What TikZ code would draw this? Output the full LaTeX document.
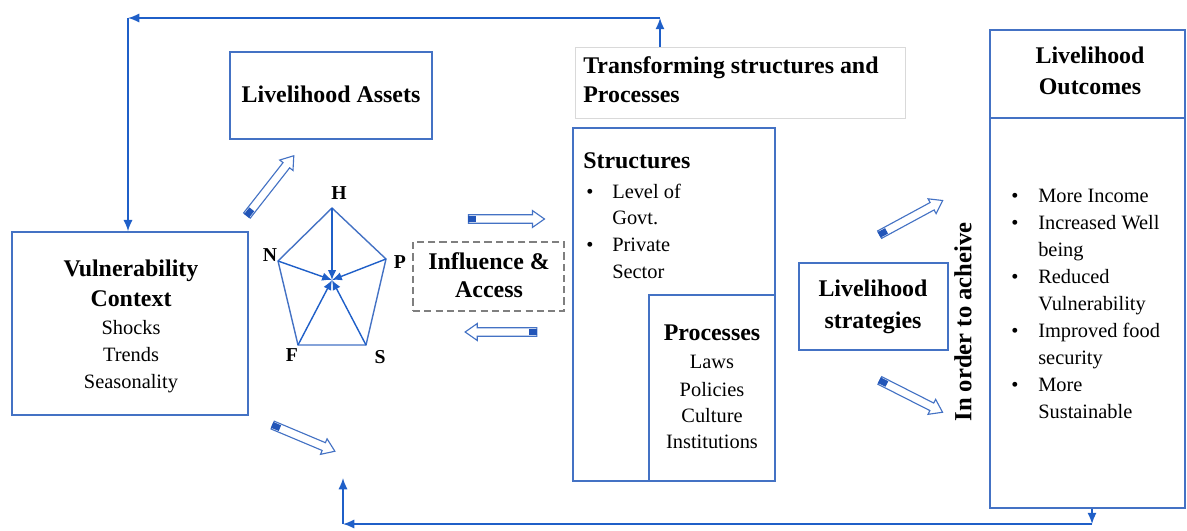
\documentclass[tikz,border=0pt]{standalone}
\usepackage{fontspec}
\setmainfont{Liberation Serif}
\usetikzlibrary{arrows.meta,shapes.arrows,fit,calc}
\definecolor{bx}{HTML}{4472C4}
\definecolor{cn}{HTML}{1F5FC8}
\definecolor{dk}{HTML}{2255B8}
\definecolor{gr}{HTML}{7F7F7F}
\definecolor{lg}{HTML}{D9D9D9}
\tikzset{
 box/.style={draw=bx, line width=1.1pt, inner sep=0pt},
 bt/.style={font=\fontsize{17}{21}\selectfont\bfseries, anchor=base, inner sep=0pt},
 rt/.style={font=\fontsize{14.5}{19}\selectfont, anchor=base, inner sep=0pt},
 lt/.style={font=\fontsize{14}{17}\selectfont\bfseries, inner sep=0pt},
 conn/.style={draw=cn, line width=1.1pt, -{Latex[length=8pt,width=6.5pt]}},
 spoke/.style={draw=cn, line width=1pt, -{Latex[length=7pt,width=6pt]}},
 barrow/.style={single arrow, draw=bx, fill=white, line width=0.8pt, minimum width=0pt,
   text height=2.6pt, text depth=2.6pt, text width=0pt,
   single arrow head extend=3pt, single arrow tip angle=70, inner sep=0pt, anchor=center},
 tailmark/.style={draw=dk, line width=4.4pt},
}
\newcommand{\blockarrow}[5]{% name, mid, angle, length, tail length
 \node[barrow, rotate=#3, minimum height=#4] (#1) at (#2) {};
 \draw[tailmark] (#1.tail) -- ($(#1.tail)!#5!(#1.tip)$);
}
\begin{document}
\begin{tikzpicture}[x=0.025cm, y=-0.025cm]
\useasboundingbox (0,0) rectangle (1187,531);

% boxes
\node[box, fit={(12,232) (248,415)}] (vuln) {};
\node[box, fit={(230,52) (432,139)}] (assets) {};
\node[draw=gr, line width=1.1pt, dash pattern=on 5pt off 3pt, inner sep=0pt, fit={(413,242) (564,311)}] (infl) {};
\node[draw=lg, line width=0.7pt, inner sep=0pt, fit={(575,47) (905,118)}] (trans) {};
\node[box, fit={(573,128) (775,481)}] (struct) {};
\node[box, fit={(649,295) (775,481)}] (proc) {};
\node[box, fit={(799,263) (948,350)}] (strat) {};
\node[box, fit={(990,30) (1185,508)}] (outc) {};
\coordinate (oh1) at (990,118);
\draw[bx, line width=1.1pt] (oh1) -- (oh1 -| outc.east);

% texts
\node[bt] (v1) at (131,276) {Vulnerability};
\node[bt] (v2) at (131,306) {Context};
\node[rt] (v3) at (131,334) {Shocks};
\node[rt] (v4) at (131,361) {Trends};
\node[rt] (v5) at (131,388) {Seasonality};

\node[bt] (a1) at (331,103) {Livelihood Assets};

\node[bt] (i1) at (489,269) {Influence \&};
\node[bt] (i2) at (489,297) {Access};

\node[bt, anchor=base west] (t1) at (583,74) {Transforming structures and};
\node[bt, anchor=base west] (t2) at (583,103) {Processes};

\node[bt, anchor=base west] (s0) at (583,169) {Structures};
\node[rt] (sb1) at (590,198) {\textbullet};
\node[rt, anchor=base west] (s1) at (612,198) {Level of};
\node[rt, anchor=base west] (s2) at (612,224) {Govt.};
\node[rt] (sb2) at (590,251) {\textbullet};
\node[rt, anchor=base west] (s3) at (612,251) {Private};
\node[rt, anchor=base west] (s4) at (612,278) {Sector};

\node[bt] (p0) at (712,340) {Processes};
\node[rt] (p1) at (712,368) {Laws};
\node[rt] (p2) at (712,396) {Policies};
\node[rt] (p3) at (712,422) {Culture};
\node[rt] (p4) at (712,448) {Institutions};

\node[bt] (g1) at (873,296) {Livelihood};
\node[bt] (g2) at (873,328) {strategies};

\node[font=\fontsize{17.5}{21}\selectfont\bfseries, inner sep=0pt, rotate=90] (ord) at (963,322) {In order to acheive};

\node[bt] (o1) at (1090,64) {Livelihood};
\node[bt] (o2) at (1090,95) {Outcomes};
\node[rt] (ob1) at (1015,202) {\textbullet};
\node[rt, anchor=base west] (oc1) at (1038,202) {More Income};
\node[rt] (ob2) at (1015,229) {\textbullet};
\node[rt, anchor=base west] (oc2) at (1038,229) {Increased Well};
\node[rt, anchor=base west] (oc3) at (1038,256) {being};
\node[rt] (ob3) at (1015,283) {\textbullet};
\node[rt, anchor=base west] (oc4) at (1038,283) {Reduced};
\node[rt, anchor=base west] (oc5) at (1038,310) {Vulnerability};
\node[rt] (ob4) at (1015,337) {\textbullet};
\node[rt, anchor=base west] (oc6) at (1038,337) {Improved food};
\node[rt, anchor=base west] (oc7) at (1038,364) {security};
\node[rt] (ob5) at (1015,391) {\textbullet};
\node[rt, anchor=base west] (oc8) at (1038,391) {More};
\node[rt, anchor=base west] (oc9) at (1038,418) {Sustainable};

% pentagon
\coordinate (H) at (332,208);
\coordinate (P) at (386,259);
\coordinate (S) at (366,345);
\coordinate (F) at (298,345);
\coordinate (N) at (278,261);
\coordinate (C) at (332,280);
\draw[bx, line width=1pt] (H) -- (P) -- (S) -- (F) -- (N) -- cycle;
\foreach \v in {H,P,S,F,N} \draw[spoke] (\v) -- (C);
\node[lt] (lH) at (339,193) {H};
\node[lt] (lN) at (270,255) {N};
\node[lt] (lP) at (400,262) {P};
\node[lt] (lF) at (292,355) {F};
\node[lt] (lS) at (380,357) {S};

% block arrows
\blockarrow{ba1}{268.5,188}{51.9}{54pt}{6pt}
\blockarrow{ba2}{503.5,219}{0}{54pt}{6pt}
\blockarrow{ba3}{504,332}{180}{51pt}{6pt}
\blockarrow{ba4}{301,437}{-22.8}{48pt}{6pt}
\blockarrow{ba5}{908.5,219}{28.4}{51pt}{6pt}
\blockarrow{ba6}{908.5,395}{-26.9}{50pt}{6pt}

% feedback connectors
\coordinate (tc1) at (660,18);
\coordinate (tc2) at (128,18);
\draw[conn] (trans.north -| tc1) -- (tc1);
\draw[conn] (tc1) -- (tc2);
\draw[conn] (tc2) -- (vuln.north -| tc2);
\coordinate (bc1) at (1092,524);
\coordinate (bc2) at (343,524);
\coordinate (bc3) at (343,478);
\draw[conn] (outc.south -| bc1) -- (bc1);
\draw[conn] (bc1) -- (bc2);
\draw[conn] (bc2) -- (bc3);
\end{tikzpicture}
\end{document}
